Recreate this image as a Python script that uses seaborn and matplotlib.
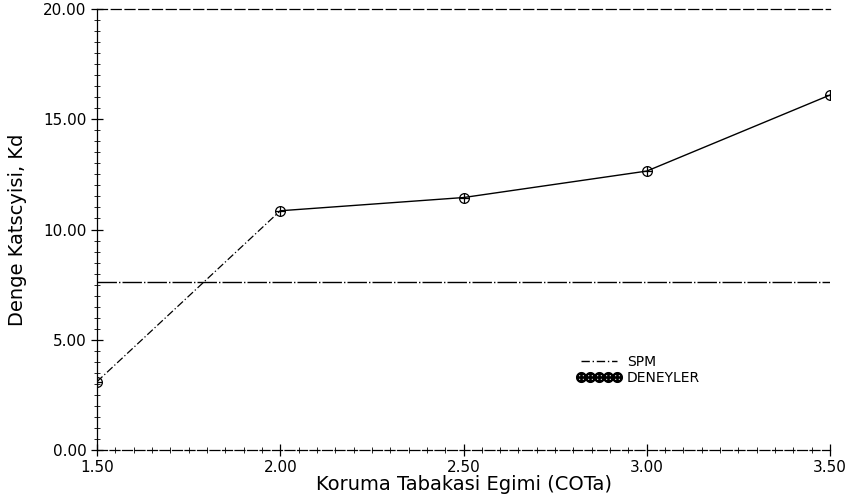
import matplotlib
matplotlib.use("Agg")
import matplotlib.pyplot as plt
import seaborn as sns
import pandas as pd
from matplotlib.ticker import MultipleLocator, FormatStrFormatter
from matplotlib.lines import Line2D

sns.set_theme(style="white")
plt.rcParams['font.family'] = ['DejaVu Sans']

cot = [1.5, 2.0, 2.5, 3.0, 3.5]
kd_deney = [3.1, 10.85, 11.45, 12.65, 16.1]
spm_x = [1.5, 3.5]
spm_kd = [7.6, 7.6]

fig = plt.figure(figsize=(8.48, 5.01), dpi=100)
ax = fig.add_axes([0.1144, 0.1018, 0.8644, 0.8802])

dashdot = (0, (6, 2, 1, 2))

df_spm = pd.DataFrame({"x": spm_x, "y": spm_kd})
sns.lineplot(data=df_spm, x="x", y="y", ax=ax, color="black", lw=1.0,
             linestyle=(0, (14, 1.5, 1, 1.5)), legend=False)

df_d = pd.DataFrame({"x": cot, "y": kd_deney})
sns.lineplot(data=df_d.iloc[:2], x="x", y="y", ax=ax, color="black", lw=0.9,
             linestyle=dashdot, legend=False)
sns.lineplot(data=df_d.iloc[1:], x="x", y="y", ax=ax, color="black", lw=1.0,
             legend=False)
sns.lineplot(data=df_d, x="x", y="y", ax=ax, color="black", lw=0,
             marker="o", markersize=7, markerfacecolor="none",
             markeredgecolor="black", markeredgewidth=0.9, legend=False)
sns.lineplot(data=df_d, x="x", y="y", ax=ax, color="black", lw=0,
             marker="+", markersize=7, markeredgecolor="black",
             markeredgewidth=0.9, legend=False)

ax.set_xlim(1.5, 3.5)
ax.set_ylim(0, 20)
ax.xaxis.set_major_locator(MultipleLocator(0.5))
ax.xaxis.set_minor_locator(MultipleLocator(0.05))
ax.yaxis.set_major_locator(MultipleLocator(5))
ax.yaxis.set_minor_locator(MultipleLocator(0.5))
ax.xaxis.set_major_formatter(FormatStrFormatter("%.2f"))
ax.yaxis.set_major_formatter(FormatStrFormatter("%.2f"))
ax.tick_params(axis="both", which="major", direction="inout", length=8, width=0.9,
               labelsize=11, colors="black", left=True, bottom=True)
ax.tick_params(axis="both", which="minor", direction="inout", length=4, width=0.7,
               left=True, bottom=True)

for s in ["left", "bottom", "top"]:
    ax.spines[s].set_color("black")
    ax.spines[s].set_linewidth(0.9)
ax.spines["top"].set_linestyle((0, (8, 3)))
ax.spines["bottom"].set_linestyle((0, (8, 2)))
ax.spines["right"].set_visible(False)

ax.set_xlabel("Koruma Tabakasi Egimi (COTa)", fontsize=14, labelpad=0, color="black")
ax.set_ylabel("Denge Katscyisi, Kd", fontsize=14, labelpad=12, color="black")

h_spm = Line2D([], [], color="black", lw=1.0, linestyle=dashdot)
h_d = Line2D([], [], color="black", lw=0.8, marker="$\\oplus$", markersize=7)
ax.legend([h_spm, h_d], ["SPM", "DENEYLER"], loc="lower right",
          bbox_to_anchor=(0.84, 0.12), frameon=False, fontsize=10,
          handlelength=3.2, labelspacing=0.1, handletextpad=0.4, numpoints=5,
          labelcolor="black")

fig.savefig("out.png", dpi=100)
